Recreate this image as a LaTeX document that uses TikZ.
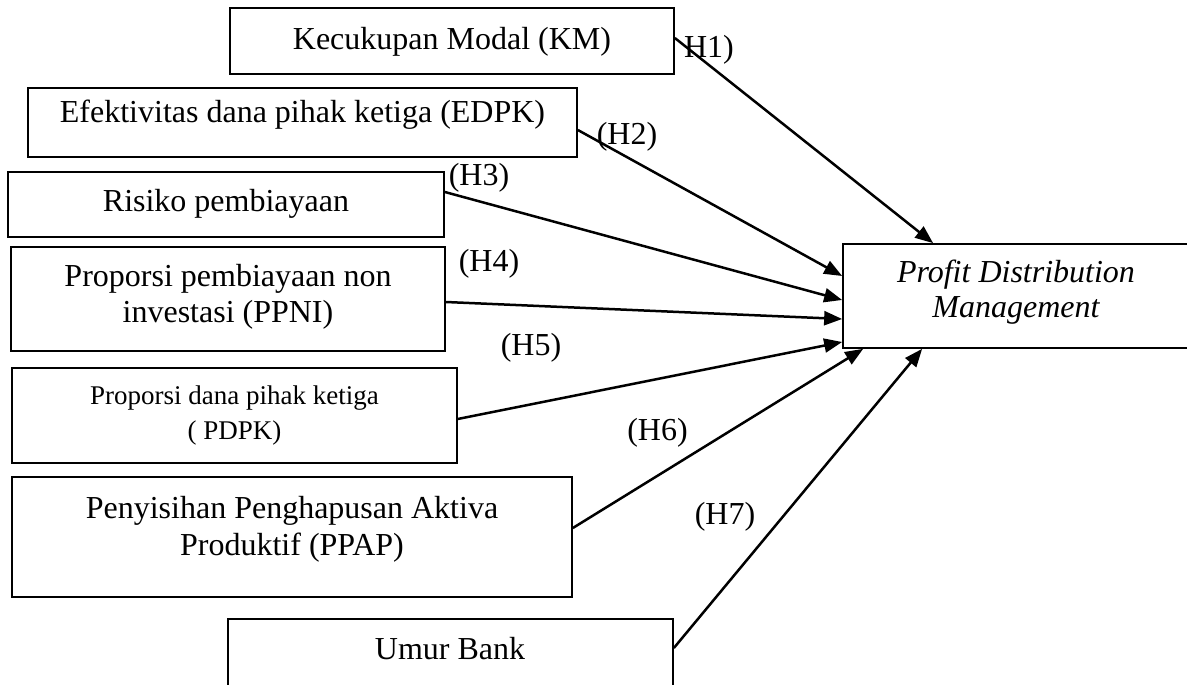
\documentclass[tikz,border=0pt]{standalone}
\usepackage{fontspec}
\setmainfont{Liberation Serif}
\usetikzlibrary{arrows.meta}
\begin{document}
\begin{tikzpicture}[x=1pt,y=-1pt,
  box/.style={draw, line width=1.7pt, inner sep=0pt},
  txt/.style={inner sep=0pt, align=center, font=\fontsize{32}{36}\selectfont},
  smalltxt/.style={inner sep=0pt, align=center, font=\fontsize{27}{35}\selectfont},
  hyp/.style={inner sep=0pt, font=\fontsize{32}{36}\selectfont},
  arr/.style={line width=2.5pt, -{Triangle[length=18pt,width=14pt]}}]
\useasboundingbox (0,0) rectangle (1187,685);

% boxes
\node[box, minimum width=444pt, minimum height=66pt] (km) at (452,41) {};
\node[box, minimum width=549pt, minimum height=69pt] (edpk) at (302.5,122.5) {};
\node[box, minimum width=436pt, minimum height=65pt] (rp) at (226,204.5) {};
\node[box, minimum width=434pt, minimum height=104pt] (ppni) at (228,299) {};
\node[box, minimum width=445pt, minimum height=95pt] (pdpk) at (234.5,415.5) {};
\node[box, minimum width=560pt, minimum height=120pt] (ppap) at (292,537) {};
\node[box, minimum width=445pt, minimum height=101pt] (ub) at (450.5,669.5) {};
\node[box, minimum width=357pt, minimum height=104pt] (pdm) at (1021.5,296) {};

% texts
\node[txt] (km-t) at (452,42) {Kecukupan Modal (KM)};
\node[txt] (edpk-t) at (302.5,115) {Efektivitas dana pihak ketiga (EDPK)};
\node[txt] (rp-t) at (226,204) {Risiko pembiayaan};
\node[txt] (ppni-t) at (228,297) {Proporsi pembiayaan non\\investasi (PPNI)};
\node[smalltxt] (pdpk-t) at (234.5,416) {Proporsi dana pihak ketiga\\( PDPK)};
\node[txt, font=\fontsize{32}{37}\selectfont] (ppap-t) at (292,529) {Penyisihan Penghapusan Aktiva\\Produktif (PPAP)};
\node[txt] (ub-t) at (450,648.5) {Umur Bank};
\node[txt, font=\fontsize{32}{35}\selectfont\itshape] (pdm-t) at (1016,292.5) {Profit Distribution\\Management};

% connectors
\draw[arr] ([yshift=3pt]km.east) -- ([xshift=91pt]pdm.north west);
\draw[arr] ([yshift=-7.5pt]edpk.east) -- ([yshift=20pt]pdm.west);
\draw[arr] ([yshift=12.5pt]rp.east) -- ([yshift=-4pt]pdm.west);
\draw[arr] ([yshift=-3pt]ppni.east) -- ([yshift=-23pt]pdm.west);
\draw[arr] ([yshift=-3.5pt]pdpk.east) -- ([yshift=-46pt]pdm.west);
\draw[arr] ([yshift=9pt]ppap.east) -- ([xshift=21pt]pdm.south west);
\draw[arr] ([yshift=21.5pt]ub.east) -- ([xshift=80pt]pdm.south west);

% hypothesis labels
\node[hyp] (h1) at (709,50) {H1)};
\node[hyp] (h2) at (627,136.5) {(H2)};
\node[hyp] (h3) at (479,177.5) {(H3)};
\node[hyp] (h4) at (489,263.5) {(H4)};
\node[hyp] (h5) at (531,347.5) {(H5)};
\node[hyp] (h6) at (657.5,432.5) {(H6)};
\node[hyp] (h7) at (725,516.5) {(H7)};
\end{tikzpicture}
\end{document}
